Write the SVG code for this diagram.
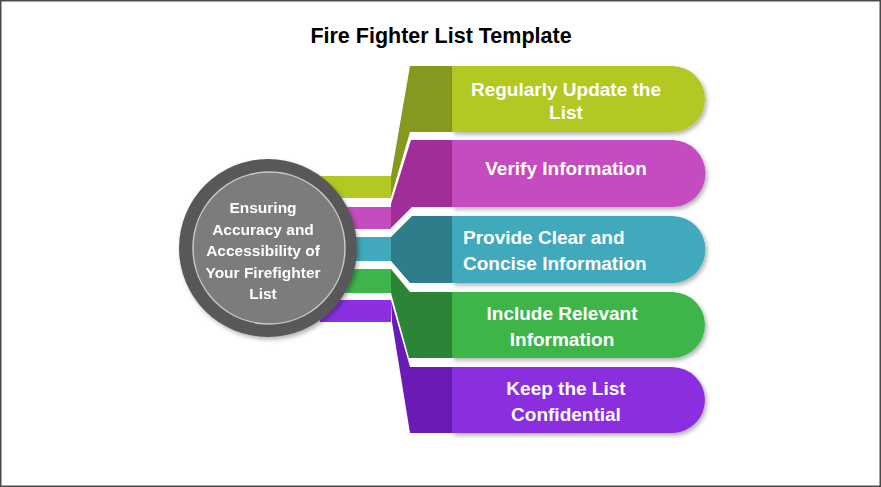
<svg xmlns="http://www.w3.org/2000/svg" width="881" height="487" viewBox="0 0 881 487">
<style>
.t{font-family:"Liberation Sans",Arial,sans-serif;font-weight:bold;fill:#fff;font-size:19px;text-anchor:middle}
.c{font-size:15.5px}
.title{font-family:"Liberation Sans",Arial,sans-serif;font-weight:bold;fill:#000;font-size:21.5px;text-anchor:middle}
</style>
<defs>
<filter id="sh" x="-10%" y="-20%" width="125%" height="150%">
<feDropShadow dx="2" dy="2.5" stdDeviation="2" flood-color="#000" flood-opacity="0.3"/>
</filter>
</defs>
<rect x="0.75" y="0.75" width="879.5" height="485.5" fill="#fff" stroke="#4a4a4a" stroke-width="1.5"/>
<text class="title" x="441" y="43">Fire Fighter List Template</text>
<g id="connectors">
<rect x="320" y="176" width="71" height="22" fill="#b3c823"/>
<rect x="320" y="207" width="71" height="22" fill="#c54cc0"/>
<rect x="320" y="237" width="71" height="24" fill="#40a9bb"/>
<rect x="320" y="269" width="71" height="24" fill="#3eb54a"/>
<rect x="320" y="300" width="71" height="22" fill="#8b2fe0"/>
<polygon points="391,176 410,66 452,66 452,132 410,132 391,197" fill="#85991e"/>
<polygon points="391,204 411,140 452,140 452,207 412,207 391,228" fill="#a12d99"/>
<polygon points="391,237 412,216 452,216 452,283 410,283 391,261" fill="#2e7d8b"/>
<polygon points="391,269 410,292 452,292 452,358 409,358 391,293" fill="#2c8536"/>
<polygon points="391,300 410,367 452,367 452,433 410,433 392,322" fill="#6a1bb5"/>
</g>
<g id="center" filter="url(#sh)">
<circle cx="268" cy="248" r="89" fill="#585858"/>
<circle cx="269" cy="248" r="76" fill="#7b7b7b" stroke="#c8c8c8" stroke-width="1.5"/>
<text class="t c" x="263" y="213">Ensuring</text>
<text class="t c" x="263" y="234.5">Accuracy and</text>
<text class="t c" x="263" y="256">Accessibility of</text>
<text class="t c" x="263" y="277.5">Your Firefighter</text>
<text class="t c" x="263" y="299">List</text>
</g>
<g id="item1">
<path d="M452,66 H672 A33,33 0 0 1 672,132 H452 Z" fill="#b3c823" filter="url(#sh)"/>
<text class="t" x="566" y="95.5">Regularly Update the</text>
<text class="t" x="566" y="119">List</text>
</g>
<g id="item2">
<path d="M452,140 H672 A33.5,33.5 0 0 1 672,207 H452 Z" fill="#c54cc0" filter="url(#sh)"/>
<text class="t" x="566" y="174.5">Verify Information</text>
</g>
<g id="item3">
<path d="M452,216 H672 A33.5,33.5 0 0 1 672,283 H452 Z" fill="#40a9bb" filter="url(#sh)"/>
<text class="t" x="463" y="244" text-anchor="start" style="text-anchor:start">Provide Clear and</text>
<text class="t" x="463" y="270" style="text-anchor:start">Concise Information</text>
</g>
<g id="item4">
<path d="M452,292 H672 A33,33 0 0 1 672,358 H452 Z" fill="#3eb54a" filter="url(#sh)"/>
<text class="t" x="562" y="320">Include Relevant</text>
<text class="t" x="562" y="345.5">Information</text>
</g>
<g id="item5">
<path d="M452,367 H672 A33,33 0 0 1 672,433 H452 Z" fill="#8b2fe0" filter="url(#sh)"/>
<text class="t" x="566" y="395">Keep the List</text>
<text class="t" x="566" y="421">Confidential</text>
</g>
</svg>
